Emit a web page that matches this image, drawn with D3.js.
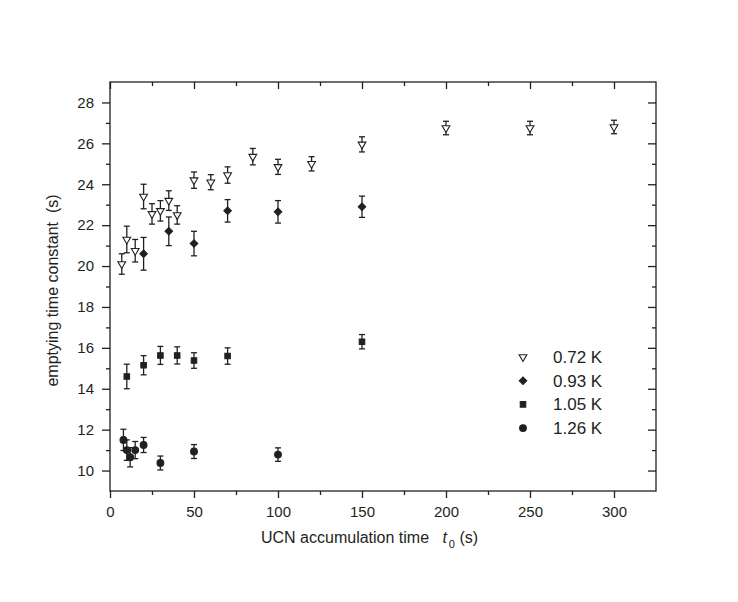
<!DOCTYPE html>
<html lang="en">
<head>
<meta charset="UTF-8">
<title>Emptying time constant</title>
<script src="https://d3js.org/d3.v7.min.js"></script>
<style>
  body { margin: 0; background: #fff; }
  text, tspan { font-family: Arial, "Liberation Sans", sans-serif; fill: #231f20; }
  .axis path, .axis line { stroke: #231f20; stroke-width: 1.3; }
  .axis text { font-size: 15px; }
  .err { stroke: #231f20; stroke-width: 1.3; fill: none; }
  .title { white-space: pre; }
</style>
</head>
<body>
<script>
// measured series: t0 (s), tau (s), error (s)
const t072   = [7, 10, 15, 20, 25, 30, 35, 40, 50, 60, 70, 85, 100, 120, 150, 200, 250, 300];
const tau072 = [20.1, 21.3, 20.75, 23.4, 22.55, 22.7, 23.2, 22.5, 24.2, 24.1, 24.45, 25.35, 24.85, 25.0, 25.95, 26.75, 26.75, 26.8];
const err072 = [0.5, 0.65, 0.55, 0.6, 0.5, 0.5, 0.48, 0.45, 0.4, 0.37, 0.4, 0.4, 0.37, 0.35, 0.37, 0.33, 0.33, 0.33];

const t093   = [20, 35, 50, 70, 100, 150];
const tau093 = [20.6, 21.7, 21.1, 22.7, 22.65, 22.9];
const err093 = [0.8, 0.7, 0.6, 0.55, 0.55, 0.52];

const t105   = [10, 20, 30, 40, 50, 70, 150];
const tau105 = [14.6, 15.15, 15.63, 15.63, 15.38, 15.6, 16.3];
const err105 = [0.6, 0.47, 0.44, 0.42, 0.38, 0.4, 0.35];

const t126   = [8, 10, 12, 15, 20, 30, 50, 100];
const tau126 = [11.5, 11.0, 10.65, 11.0, 11.25, 10.37, 10.93, 10.78];
const err126 = [0.52, 0.5, 0.47, 0.42, 0.37, 0.34, 0.34, 0.33];

const seriesNames = ["0.72 K", "0.93 K", "1.05 K", "1.26 K"];
const xMajor = [0, 50, 100, 150, 200, 250, 300];
const xMinor = [25, 75, 125, 175, 225, 275];
const yMajor = [10, 12, 14, 16, 18, 20, 22, 24, 26, 28];
const yMinor = [11, 13, 15, 17, 19, 21, 23, 25, 27];

const width = 738, height = 602;
const pLeft = 110, pRight = 656, pTop = 82, pBottom = 491;

const x = d3.scaleLinear().domain([0, 325]).range([pLeft, pRight]);
const y = d3.scaleLinear().domain([9, 29]).range([pBottom, pTop]);

const svg = d3.select("body").append("svg").attr("width", width).attr("height", height);

// frame
svg.append("rect").attr("x", pLeft).attr("y", pTop)
   .attr("width", pRight - pLeft).attr("height", pBottom - pTop)
   .attr("fill", "none").attr("stroke", "#231f20").attr("stroke-width", 1.3);

function addAxis(gen, tr, vals, size, labels) {
  const g = svg.append("g").attr("class", "axis").attr("transform", tr)
     .call(gen.tickValues(vals).tickSizeInner(size).tickSizeOuter(0)
              .tickPadding(labels ? 8 : 0)
              .tickFormat(labels ? d3.format("d") : ""));
  g.select(".domain").remove();
  return g;
}
addAxis(d3.axisBottom(x), `translate(0,${pBottom})`, xMajor, 7, true);
addAxis(d3.axisBottom(x), `translate(0,${pBottom})`, xMinor, 4, false);
addAxis(d3.axisTop(x), `translate(0,${pTop})`, xMajor, -7, false);
addAxis(d3.axisTop(x), `translate(0,${pTop})`, xMinor, -4, false);
addAxis(d3.axisLeft(y), `translate(${pLeft},0)`, yMajor, 8, true);
addAxis(d3.axisLeft(y), `translate(${pLeft},0)`, yMinor, 4, false);
addAxis(d3.axisRight(y), `translate(${pRight},0)`, yMajor, -8, false);
addAxis(d3.axisRight(y), `translate(${pRight},0)`, yMinor, -4, false);

// axis titles
svg.append("text").attr("class", "title")
   .attr("transform", `translate(58,${(pTop + pBottom) / 2 + 4}) rotate(-90)`)
   .attr("text-anchor", "middle").attr("font-size", 16)
   .text("emptying time constant  (s)");

const xt = svg.append("text").attr("class", "title").attr("x", 261).attr("y", 543)
   .attr("font-size", 16).attr("fill", "#231f20");
xt.append("tspan").text("UCN accumulation time   ");
xt.append("tspan").attr("font-style", "italic").attr("fill", "#231f20").text("t");
xt.append("tspan").attr("font-size", 11).attr("fill", "#231f20").attr("dy", 5).attr("dx", 2).text("0");
xt.append("tspan").attr("dy", -5).text(" (s)");

// symbols
const sym = [
  {type: d3.symbolTriangle, size: 26, fill: "#fff", rot: 180},
  {type: d3.symbolSquare, size: 28, fill: "#231f20", rot: 45},
  {type: d3.symbolSquare, size: 30, fill: "#231f20", rot: 0},
  {type: d3.symbolCircle, size: 36, fill: "#231f20", rot: 0}
];

const series = [
  {t: t072, v: tau072, e: err072},
  {t: t093, v: tau093, e: err093},
  {t: t105, v: tau105, e: err105},
  {t: t126, v: tau126, e: err126}
];

const cap = 3;
series.forEach((s, k) => {
  const pts = s.t.map((t, i) => ({t: t, v: s.v[i], e: s.e[i]}));
  const g = svg.append("g");
  const eb = g.selectAll("g.eb").data(pts).enter().append("g").attr("class", "err");
  eb.append("line").attr("x1", d => x(d.t)).attr("x2", d => x(d.t))
    .attr("y1", d => y(d.v - d.e)).attr("y2", d => y(d.v + d.e));
  eb.append("line").attr("x1", d => x(d.t) - cap).attr("x2", d => x(d.t) + cap)
    .attr("y1", d => y(d.v + d.e)).attr("y2", d => y(d.v + d.e));
  eb.append("line").attr("x1", d => x(d.t) - cap).attr("x2", d => x(d.t) + cap)
    .attr("y1", d => y(d.v - d.e)).attr("y2", d => y(d.v - d.e));
  g.selectAll("path.mk").data(pts).enter().append("path").attr("class", "mk")
    .attr("d", d3.symbol().type(sym[k].type).size(sym[k].size))
    .attr("transform", d => `translate(${x(d.t)},${y(d.v)}) rotate(${sym[k].rot})`)
    .attr("fill", sym[k].fill).attr("stroke", "#231f20").attr("stroke-width", 1.1);
});

// legend
const leg = svg.append("g");
seriesNames.forEach((name, k) => {
  const ly = 357 + k * 23.7;
  leg.append("path").attr("d", d3.symbol().type(sym[k].type).size(sym[k].size))
     .attr("transform", `translate(523,${ly}) rotate(${sym[k].rot})`)
     .attr("fill", sym[k].fill).attr("stroke", "#231f20").attr("stroke-width", 1.1);
  leg.append("text").attr("x", 553).attr("y", ly + 6).attr("font-size", 17).text(name);
});
</script>
</body>
</html>
